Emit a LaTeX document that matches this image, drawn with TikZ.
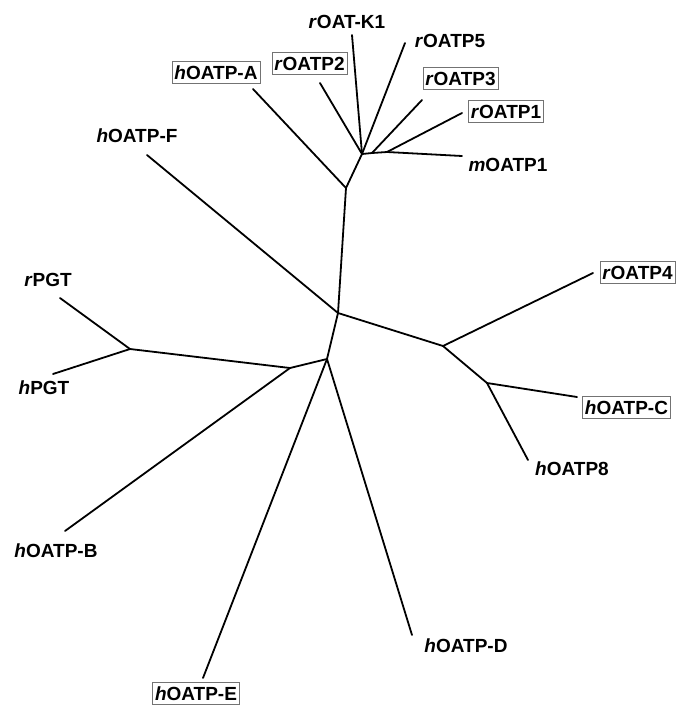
\documentclass[tikz,border=0pt]{standalone}
\usepackage{fontspec}
\setmainfont{Liberation Sans}
\begin{document}
\begin{tikzpicture}[x=1pt,y=-1pt,
  br/.style={line width=1.8pt, line cap=round, line join=round},
  lab/.style={font=\fontsize{19}{19}\selectfont\bfseries, inner sep=0pt, text height=13.6pt, text depth=0pt},
  boxed/.style={lab, draw=black!55, line width=0.7pt, inner xsep=2.5pt, inner ysep=4.5pt}]
\useasboundingbox (0,0) rectangle (676,705);
% internal nodes
\coordinate (H1) at (362,154);
\coordinate (H2) at (372,153);
\coordinate (H3) at (387,152);
\coordinate (N1) at (346,188);
\coordinate (A) at (338,313);
\coordinate (E1) at (443,346);
\coordinate (D) at (487,383);
\coordinate (B) at (327,359);
\coordinate (C) at (290,368);
\coordinate (P) at (130,349);
% leaf tips
\coordinate (tK1) at (352,35);
\coordinate (tP5) at (405,43);
\coordinate (tP2) at (320,83);
\coordinate (tA) at (253,89);
\coordinate (tP3) at (422,100);
\coordinate (tP1) at (462,113);
\coordinate (tM1) at (462,156);
\coordinate (tF) at (147,155);
\coordinate (tP4) at (593,273);
\coordinate (tC) at (577,397);
\coordinate (t8) at (528,460);
\coordinate (tR) at (60,298);
\coordinate (tH) at (53,374);
\coordinate (tB) at (65,531);
\coordinate (tE) at (203,678);
\coordinate (tD) at (412,635);
% branches
\draw[br] (tK1) -- (H1);
\draw[br] (tP5) -- (H1);
\draw[br] (tP2) -- (H1);
\draw[br] (H1) -- (H2) -- (H3);
\draw[br] (tP3) -- (H2);
\draw[br] (H3) -- (tP1);
\draw[br] (H3) -- (tM1);
\draw[br] (H1) -- (N1);
\draw[br] (tA) -- (N1);
\draw[br] (N1) -- (A);
\draw[br] (tF) -- (A);
\draw[br] (A) -- (E1);
\draw[br] (E1) -- (tP4);
\draw[br] (E1) -- (D);
\draw[br] (D) -- (tC);
\draw[br] (D) -- (t8);
\draw[br] (A) -- (B);
\draw[br] (B) -- (C);
\draw[br] (C) -- (P);
\draw[br] (P) -- (tR);
\draw[br] (P) -- (tH);
\draw[br] (C) -- (tB);
\draw[br] (B) -- (tE);
\draw[br] (B) -- (tD);
% labels
\node[lab] (lK1) at (347,21.5) {\textit{r}OAT-K1};
\node[lab] (lP5) at (450,41) {\textit{r}OATP5};
\node[boxed] (lA) at (216,72.5) {\textit{h}OATP-A};
\node[boxed] (lP2) at (309.5,63.5) {\textit{r}OATP2};
\node[boxed] (lP3) at (460.5,78.5) {\textit{r}OATP3};
\node[boxed] (lP1) at (506,111.5) {\textit{r}OATP1};
\node[lab] (lM1) at (508,165) {\textit{m}OATP1};
\node[lab] (lF) at (137,136) {\textit{h}OATP-F};
\node[lab] (lR) at (48,279.5) {\textit{r}PGT};
\node[lab] (lH) at (44,387.5) {\textit{h}PGT};
\node[boxed] (lP4) at (637.5,272.5) {\textit{r}OATP4};
\node[boxed] (lC) at (626.5,407.5) {\textit{h}OATP-C};
\node[lab] (l8) at (572,469) {\textit{h}OATP8};
\node[lab] (lB) at (56,551) {\textit{h}OATP-B};
\node[lab] (lD) at (466,646) {\textit{h}OATP-D};
\node[boxed] (lE) at (196,693.5) {\textit{h}OATP-E};
\end{tikzpicture}
\end{document}
